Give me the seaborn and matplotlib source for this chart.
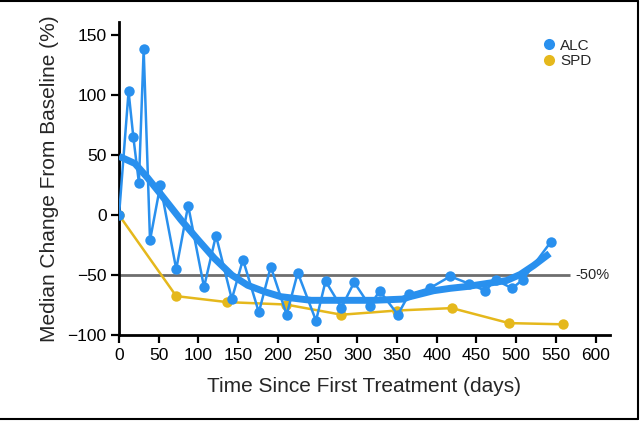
import matplotlib
matplotlib.use("Agg")
import matplotlib.pyplot as plt
from matplotlib.lines import Line2D
import seaborn as sns
import pandas as pd

# ALC: median change from baseline (%), per visit
alc_days = [0, 12, 18, 25, 31, 39, 52, 72, 87, 107, 122, 142, 156, 176, 191, 211, 225,
            248, 260, 280, 296, 316, 328, 351, 365, 391, 417, 440, 461, 474, 495, 508, 544]
alc_vals = [0, 103, 65, 27, 138, -21, 25, -45, 8, -60, -17, -70, -37, -81, -43, -83, -48,
            -88, -55, -77, -56, -76, -63, -83, -66, -61, -51, -57, -63, -54, -61, -54, -22]

# smoothed ALC trend
trend_days = [0, 20, 36, 53, 78, 100, 120, 142, 162, 184, 204, 242, 280, 320, 357, 366,
              396, 417, 438, 463, 488, 505, 522, 542]
trend_vals = [49, 43, 31, 17, -4, -21, -36, -50, -58.5, -64, -68, -71, -71, -71, -70, -68,
              -63, -61, -59.5, -57, -54.5, -49.5, -42, -32]

# SPD
spd_days = [0, 72, 136, 210, 280, 350, 419, 491, 559]
spd_vals = [0, -67.5, -72.5, -74.5, -83, -79.5, -77.5, -90, -91]

threshold = -50
threshold_end = 568

x_ticks = list(range(0, 601, 50))
y_ticks = [-100, -50, 0, 50, 100, 150]

BLUE = "#2990EE"
GOLD = "#E5B81C"

sns.set_style("ticks")
plt.rcParams["font.family"] = ["Liberation Sans", "DejaVu Sans"]

alc = pd.DataFrame({"day": alc_days, "val": alc_vals})
trend = pd.DataFrame({"day": trend_days, "val": trend_vals})
spd = pd.DataFrame({"day": spd_days, "val": spd_vals})

fig = plt.figure(figsize=(6.4, 4.21), dpi=100)
ax = fig.add_axes([0.186, 0.204, 0.767, 0.744])

ax.hlines(threshold, 0, threshold_end, color="#6e6e6e", lw=2, zorder=1)
ax.text(threshold_end + 6, threshold, "-50%", va="center", ha="left", fontsize=10.5)

sns.lineplot(data=spd, x="day", y="val", ax=ax, color=GOLD, lw=1.8, marker="o",
             markersize=7.5, markeredgewidth=0, estimator=None, zorder=2)
sns.lineplot(data=alc, x="day", y="val", ax=ax, color=BLUE, lw=1.8, marker="o",
             markersize=7.5, markeredgewidth=0, estimator=None, zorder=3)
sns.lineplot(data=trend, x="day", y="val", ax=ax, color=BLUE, lw=5, estimator=None,
             zorder=4, solid_capstyle="butt", solid_joinstyle="round")

ax.set_xlim(0, 618)
ax.set_ylim(-100, 161)
ax.set_xticks(x_ticks)
ax.set_yticks(y_ticks)
ax.tick_params(axis="both", direction="out", length=6, width=1.6, labelsize=12.5,
               colors="black", pad=3)
for side in ["left", "bottom"]:
    ax.spines[side].set_linewidth(2)
    ax.spines[side].set_color("black")
sns.despine(ax=ax)

ax.set_xlabel("Time Since First Treatment (days)", fontsize=15, labelpad=10)
ax.set_ylabel("Median Change From Baseline (%)", fontsize=15, labelpad=6)

handles = [Line2D([0], [0], marker="o", color="none", markerfacecolor=BLUE,
                  markeredgewidth=0, markersize=8),
           Line2D([0], [0], marker="o", color="none", markerfacecolor=GOLD,
                  markeredgewidth=0, markersize=8)]
ax.legend(handles, ["ALC", "SPD"], loc="upper left", bbox_to_anchor=(0.83, 0.99),
          frameon=False, fontsize=11, handletextpad=0.1, labelspacing=0.1,
          handlelength=1.2)

# thin frame on top, right and bottom of the figure
for xs, ys in [([0, 0.997], [0.998, 0.998]), ([0.997, 0.997], [0.004, 0.998]),
               ([0, 0.997], [0.004, 0.004])]:
    fig.add_artist(Line2D(xs, ys, transform=fig.transFigure, color="black", lw=1.5))

fig.savefig("out.png", dpi=100)
